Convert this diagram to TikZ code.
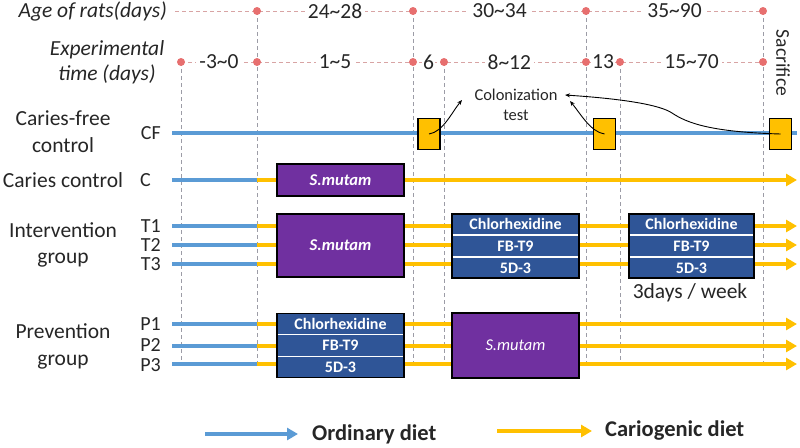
\documentclass[tikz,border=0pt]{standalone}
\usepackage{fontspec}
\setmainfont{Carlito}
\usepackage{tikz}
\usetikzlibrary{arrows.meta,positioning,calc}
\definecolor{ordblue}{HTML}{5B9BD5}
\definecolor{cariyellow}{HTML}{FFC000}
\definecolor{smpurple}{HTML}{7030A0}
\definecolor{drugblue}{HTML}{2F5597}
\definecolor{dotred}{HTML}{E76F6F}
\definecolor{gridgray}{HTML}{9C9CA6}
\definecolor{gridpink}{HTML}{D8A4A4}
\definecolor{ink}{HTML}{262626}

\begin{document}
\begin{tikzpicture}[x=1pt,y=-1pt,
  font=\fontsize{21.5}{24}\selectfont, text=ink,
  ordline/.style={ordblue,line width=4pt},
  cariline/.style={cariyellow,line width=4pt},
  tip/.style={-{Triangle[length=11pt,width=12pt]}},
  vdash/.style={gridgray,line width=0.8pt,dash pattern=on 4pt off 3pt},
  hdash/.style={gridpink,line width=0.8pt,dash pattern=on 4pt off 3pt},
  tdot/.style={circle,fill=dotred,inner sep=0pt,minimum size=8pt},
  period/.style={fill=white,inner sep=3pt},
  rowlbl/.style={anchor=east,inner sep=0pt,font=\fontsize{20}{20}\selectfont},
  smbox/.style={draw=black,line width=1.5pt,fill=smpurple,text=white,font=\fontsize{16.5}{18}\selectfont\bfseries\itshape,minimum width=127pt},
  drugbox/.style={draw=black,line width=1.5pt,fill=drugblue,minimum height=64pt},
  drugtext/.style={text=white,font=\fontsize{16}{18}\selectfont\bfseries,inner sep=0pt},
  samplebox/.style={draw=black,line width=1.5pt,fill=cariyellow,minimum width=22pt,minimum height=31pt,inner sep=0pt},
  colarrow/.style={black,line width=0.9pt,-{Stealth[length=5pt,width=4pt]}},
  legtext/.style={anchor=west,inner sep=0pt,font=\fontsize{22.5}{24}\selectfont\bfseries}
]
  \useasboundingbox (0,0) rectangle (800,447);
  % time axis
  \node[anchor=east,inner sep=0pt,font=\fontsize{21.5}{24}\selectfont\itshape] (agelbl) at (167,11) {Age of rats(days)};
  \node[align=center,font=\fontsize{21.5}{25}\selectfont\itshape] (explbl) at (107,62) {Experimental\\time (days)};
  \node[rotate=-90,font=\fontsize{19.5}{22}\selectfont] (sacr) at (783,63) {Sacrifice};
  \foreach \n/\x in {a1/257,a2/413,a3/586,a4/763} \coordinate (\n) at (\x,11);
  \foreach \n/\x in {e1/181,e2/257,e3/413,e4/444,e5/586,e6/620,e7/763} \coordinate (\n) at (\x,62);
  \coordinate (bot) at (0,365);
  \draw[hdash] ([xshift=8pt]agelbl.east) -- (a4);
  \draw[hdash] (e1) -- (e7);
  \foreach \n in {a1,a2,a3,a4,e1,e4,e6} \draw[vdash] (\n) -- (\n |- bot);
  \node[period] (age1) at ($(a1)!0.5!(a2)$) {24\textasciitilde28};
  \node[period] (age2) at ($(a2)!0.5!(a3)$) {30\textasciitilde34};
  \node[period] (age3) at ($(a3)!0.5!(a4)$) {35\textasciitilde90};
  \node[period] (exp1) at ($(e1)!0.5!(e2)$) {-3\textasciitilde0};
  \node[period] (exp2) at ($(e2)!0.5!(e3)$) {1\textasciitilde5};
  \node[period,inner sep=1pt] (exp3) at ($(e3)!0.5!(e4)$) {6};
  \node[period] (exp4) at ($(e4)!0.46!(e5)$) {8\textasciitilde12};
  \node[period,inner sep=1pt] (exp5) at ($(e5)!0.5!(e6)$) {13};
  \node[period] (exp6) at ($(e6)!0.5!(e7)$) {15\textasciitilde70};
  \foreach \n in {a1,a2,a3,a4,e1,e2,e3,e4,e5,e6,e7} \node[tdot] (\n-dot) at (\n) {};
  % groups
  \node[align=center,font=\fontsize{21.5}{27}\selectfont] (cflbl) at (63,132) {Caries-free\\control};
  \node (clbl) at (63,180) {Caries control};
  \node[align=center,font=\fontsize{21.5}{26}\selectfont] (tlbl) at (63,245) {Intervention\\group};
  \node[align=center,font=\fontsize{21.5}{27}\selectfont] (plbl) at (63,346) {Prevention\\group};
  \foreach \n/\t/\x/\y in {rcf/CF/161/133, rc/C/151/180, rt1/T1/161/226, rt2/T2/161/245, rt3/T3/161/264,
                           rp1/P1/161/324, rp2/P2/161/345, rp3/P3/161/365}
    \node[rowlbl] (\n) at (\x,\y) {\t};
  % diet lines
  \coordinate (lstart) at (172,0);
  \coordinate (lend) at (797,0);
  \draw[ordline] (lstart |- rcf) -- (lend |- rcf);
  \foreach \n/\y in {rc/180,rt1/226,rt2/245,rt3/264,rp1/324,rp2/346,rp3/364} {
    \draw[cariline,tip] (a1 |- 0,\y) -- (lend |- 0,\y);
    \draw[ordline] (lstart |- 0,\y) -- (a1 |- 0,\y);
  }
  % inoculation
  \node[smbox,minimum height=32pt] (smc) at (340.5,180) {S.mutam};
  \node[smbox,minimum height=63pt] (smt) at (340.5,245.5) {S.mutam};
  \node[smbox,minimum height=65pt,font=\fontsize{16.5}{18}\selectfont\itshape] (smp) at (515.5,345.5) {S.mutam};
  % treatments
  \foreach \n/\x/\y/\w in {dt1/515.5/246/127, dt2/691.5/246/125, dp/340.5/345.5/127} {
    \node[drugbox,minimum width=\w pt] (\n) at (\x,\y) {};
    \draw[white,line width=1.5pt,shorten <=1.5pt,shorten >=1.5pt]
      ($(\n.north west)!1/3!(\n.south west)$) -- ($(\n.north east)!1/3!(\n.south east)$);
    \draw[white,line width=1.5pt,shorten <=1.5pt,shorten >=1.5pt]
      ($(\n.north west)!2/3!(\n.south west)$) -- ($(\n.north east)!2/3!(\n.south east)$);
    \node[drugtext] (\n-a) at ($(\n.north)!1/6!(\n.south)$) {Chlorhexidine};
    \node[drugtext] (\n-b) at (\n.center) {FB-T9};
    \node[drugtext] (\n-c) at ($(\n.north)!5/6!(\n.south)$) {5D-3};
  }
  \node (freq) at (690,293) {3days / week};
  % colonization test
  \foreach \n/\x in {s1/429, s2/604.5, s3/780.5} \node[samplebox] (\n) at (\x,134) {};
  \node[align=center,font=\fontsize{16.5}{20}\selectfont] (coltest) at (516,105) {Colonization\\test};
  \coordinate (c1) at (462,100);
  \coordinate (c2) at (570,101);
  \coordinate (c3) at (565,95);
  \coordinate (bend) at (672,113);
  \draw[colarrow] (s1.center) .. controls +(14,-2) and +(-10,12) .. (c1);
  \draw[colarrow] (s2.center) .. controls +(-14,-2) and +(10,12) .. (c2);
  \draw[colarrow] (s3.center) .. controls +(-70,-2) and +(15,10) .. (bend)
    .. controls +(-12,-8) and +(60,4) .. (c3);
  % legend
  \coordinate (ordtail) at (205,434);
  \node[legtext] (ordlbl) at (312,434) {Ordinary diet};
  \draw[ordline,tip] (ordtail) -- ([xshift=-14pt]ordlbl.west);
  \coordinate (caritail) at (497,431);
  \node[legtext] (carilbl) at (605,431) {Cariogenic diet};
  \draw[cariline,tip] (caritail) -- ([xshift=-13pt]carilbl.west);
\end{tikzpicture}
\end{document}
